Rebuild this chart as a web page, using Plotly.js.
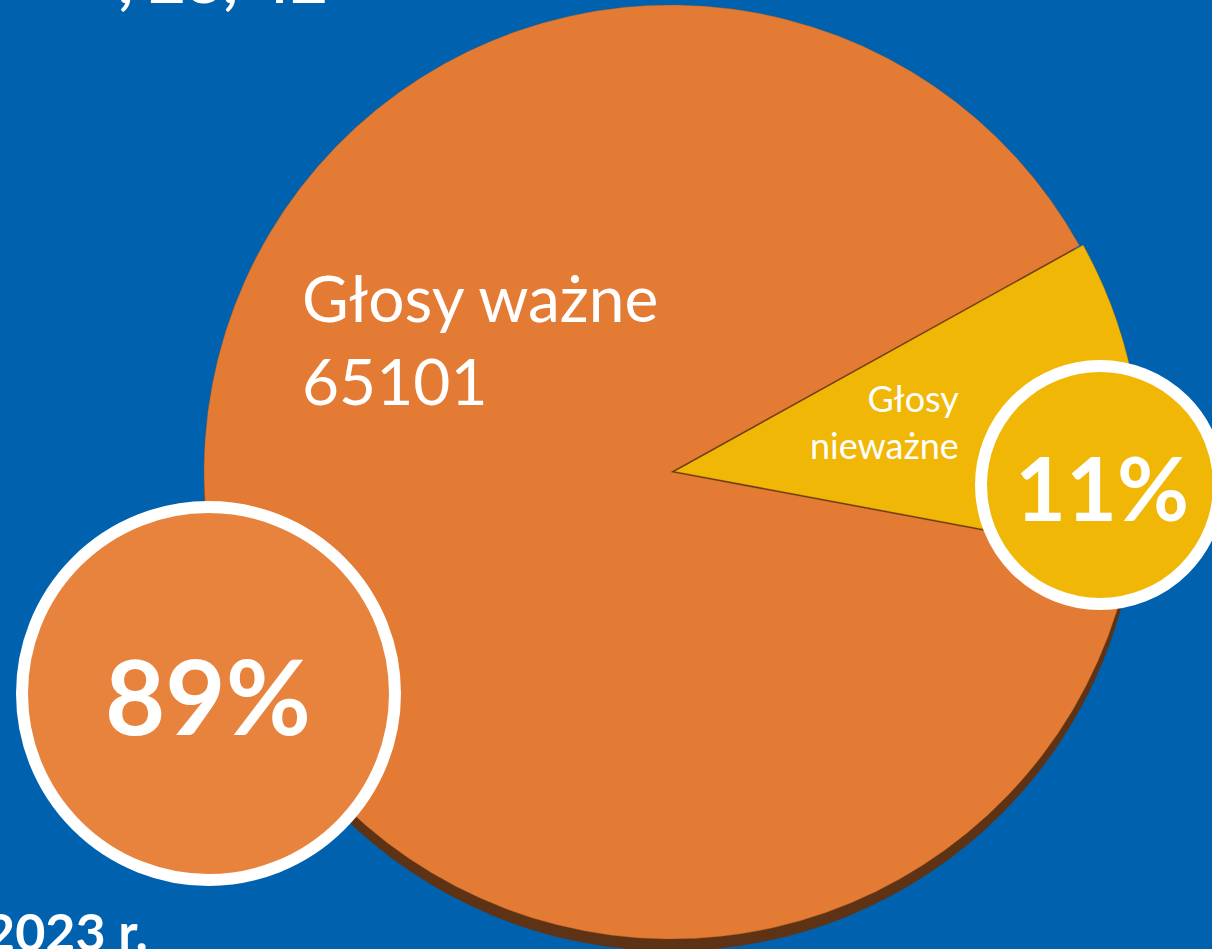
<!DOCTYPE html>
<html>
<head>
<meta charset="utf-8">
<script src="https://cdn.plot.ly/plotly-3.0.1.min.js"></script>
<style>html,body{margin:0;padding:0;background:#0062AF;}#chart{width:1212px;height:949px;}</style>
</head>
<body>
<div id="chart"></div>
<script>
// ---- data ----
var labels = ["Głosy nieważne", "Głosy ważne"];
var values = [8046, 65101];
var sliceColors = ["#F1B707", "#E47B35"];
var headerText = ", 23, 42";
var footerText = "2023 r.";

// ---- layout helpers (pixel -> paper) ----
var W = 1212, H = 949;
function X(px) { return px / W; }
function Y(py) { return 1 - py / H; }

var total = values.reduce(function (a, b) { return a + b; }, 0);
var pct = values.map(function (v) { return Math.round(v / total * 100) + "%"; });

var pull = 0.008;
var cx = 671, cy = 472, r = 467;
var box = 2 * r * (1 + pull);
var dom = {
  x: [X(cx - box / 2), X(cx + box / 2)],
  y: [Math.max(0, Y(cy + box / 2)), Math.min(1, Y(cy - box / 2))]
};

var trace = {
  type: "pie",
  labels: labels,
  values: values,
  sort: false,
  direction: "clockwise",
  rotation: 61,
  pull: [pull, 0],
  marker: { colors: sliceColors, line: { color: "rgba(150,85,20,0.35)", width: 1 } },
  textinfo: "none",
  hoverinfo: "label+value+percent",
  showlegend: false,
  domain: dom
};

function circleShape(cxp, cyp, rad, fill) {
  return {
    type: "circle", xref: "paper", yref: "paper", layer: "above",
    x0: X(cxp - rad), x1: X(cxp + rad), y0: Y(cyp + rad), y1: Y(cyp - rad),
    fillcolor: fill, line: { color: "#FFFFFF", width: 12 }
  };
}

var shapes = [
  // pie shadow
  { type: "circle", xref: "paper", yref: "paper", layer: "below",
    x0: X(cx - r), x1: X(cx + r), y0: Y(cy + 12 + r), y1: Y(cy + 12 - r),
    fillcolor: "#5E3215", line: { width: 0 } },
  circleShape(208.5, 693.5, 186.5, "#E8833D"),
  circleShape(1100, 485, 119, "#F1B707")
];

var font = "Lato, 'Open Sans', sans-serif";
var annotations = [
  { text: labels[1] + "<br>" + values[1], x: X(300), y: Y(339), xref: "paper", yref: "paper",
    xanchor: "left", yanchor: "middle", align: "left", showarrow: false,
    font: { family: font, size: 64, color: "#FFFFFF" } },
  { text: labels[0].replace(" ", "<br>"), x: X(961), y: Y(421), xref: "paper", yref: "paper",
    xanchor: "right", yanchor: "middle", align: "right", showarrow: false,
    font: { family: font, size: 36, color: "#FFFFFF" } },
  { text: "<b>" + pct[1] + "</b>", x: X(208), y: Y(694), xref: "paper", yref: "paper",
    xanchor: "center", yanchor: "middle", showarrow: false,
    font: { family: font, size: 104, color: "#FFFFFF" } },
  { text: "<b>" + pct[0] + "</b>", x: X(1102), y: Y(487), xref: "paper", yref: "paper",
    xanchor: "center", yanchor: "middle", showarrow: false,
    font: { family: font, size: 88, color: "#FFFFFF" } },
  { text: "<b>" + headerText + "</b>", x: X(116), y: Y(19), xref: "paper", yref: "paper",
    xanchor: "left", yanchor: "bottom", showarrow: false,
    font: { family: font, size: 64, color: "#FFFFFF" } },
  { text: "<b>" + footerText + "</b>", x: X(150), y: Y(898), xref: "paper", yref: "paper",
    xanchor: "right", yanchor: "top", showarrow: false,
    font: { family: font, size: 52, color: "#FFFFFF" } }
];

var layout = {
  width: W, height: H,
  margin: { l: 0, r: 0, t: 0, b: 0, pad: 0 },
  paper_bgcolor: "#0062AF",
  plot_bgcolor: "#0062AF",
  showlegend: false,
  shapes: shapes,
  annotations: annotations
};

Plotly.newPlot("chart", [trace], layout, { displayModeBar: false, responsive: false });
</script>
</body>
</html>
